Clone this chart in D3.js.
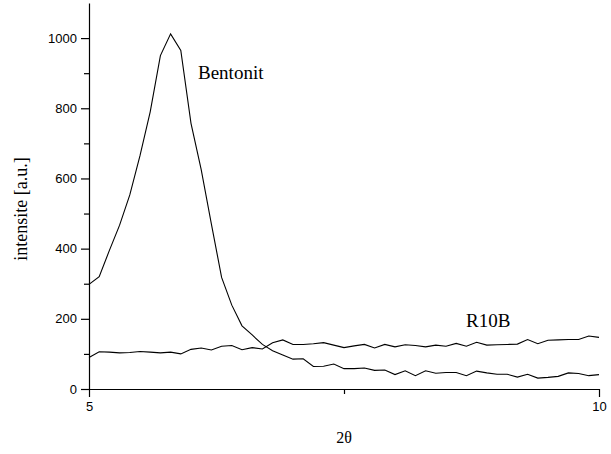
<!DOCTYPE html>
<html>
<head>
<meta charset="utf-8">
<script src="https://cdn.jsdelivr.net/npm/d3@7"></script>
<style>
  body { margin: 0; background: #fff; }
  .axis path, .axis line { stroke: #000; stroke-width: 1.2px; }
  .axis text { font-family: "Liberation Sans", Arial, sans-serif; font-size: 13px; fill: #000; }
  .serif { font-family: "Liberation Serif", "Times New Roman", serif; fill: #000; }
</style>
</head>
<body>
<div id="chart"></div>
<script>
// 2theta sampling (0.1 step)
var twoTheta = [5.0, 5.1, 5.2, 5.3, 5.4, 5.5, 5.6, 5.7, 5.8, 5.9,
    6.0, 6.1, 6.2, 6.3, 6.4, 6.5, 6.6, 6.7, 6.8, 6.9,
    7.0, 7.1, 7.2, 7.3, 7.4, 7.5, 7.6, 7.7, 7.8, 7.9,
    8.0, 8.1, 8.2, 8.3, 8.4, 8.5, 8.6, 8.7, 8.8, 8.9,
    9.0, 9.1, 9.2, 9.3, 9.4, 9.5, 9.6, 9.7, 9.8, 9.9, 10.0];

var bentonit = [298, 320, 395, 467, 553, 665, 790, 950, 1012, 965,
    757, 625, 470, 318, 239, 180, 154, 127, 109, 97,
    85, 86, 64, 65, 71, 58, 58, 60, 53, 54,
    41, 52, 38, 52, 45, 47, 47, 38, 51, 46,
    42, 42, 34, 42, 31, 33, 36, 46, 44, 38, 41];

var r10b = [90, 106, 105, 103, 104, 107, 105, 103, 105, 100,
    113, 117, 111, 122, 124, 112, 118, 114, 132, 140,
    127, 127, 129, 132, 125, 118, 123, 127, 117, 127,
    120, 126, 124, 120, 125, 122, 130, 122, 133, 125,
    126, 127, 128, 141, 129, 139, 140, 141, 141, 151, 147];

var xMajorTicks = [5, 10];
var xMinorTicks = [7.5];
var yMajorTicks = [0, 200, 400, 600, 800, 1000];
var yMinorTicks = [100, 300, 500, 700, 900];

var width = 611, height = 454;

var x = d3.scaleLinear().domain([5, 10]).range([89, 599]);
var y = d3.scaleLinear().domain([0, 1100]).range([389, 3]);

var svg = d3.select("#chart").append("svg")
    .attr("width", width)
    .attr("height", height);

// minor ticks first, then the main axes on top
svg.append("g")
    .attr("class", "axis")
    .attr("transform", "translate(0," + y(0) + ")")
    .call(d3.axisBottom(x).tickValues(xMinorTicks).tickSize(5).tickFormat(""))
    .select(".domain").remove();

svg.append("g")
    .attr("class", "axis")
    .attr("transform", "translate(" + x(5) + ",0)")
    .call(d3.axisLeft(y).tickValues(yMinorTicks).tickSize(5).tickFormat(""))
    .select(".domain").remove();

svg.append("g")
    .attr("class", "axis")
    .attr("transform", "translate(0," + y(0) + ")")
    .call(d3.axisBottom(x).tickValues(xMajorTicks).tickSize(8).tickSizeOuter(0).tickPadding(5).tickFormat(d3.format("d")));

svg.append("g")
    .attr("class", "axis")
    .attr("transform", "translate(" + x(5) + ",0)")
    .call(d3.axisLeft(y).tickValues(yMajorTicks).tickSize(8).tickSizeOuter(0).tickPadding(4).tickFormat(d3.format("d")));

var line = d3.line()
    .x(function(d, i) { return x(twoTheta[i]); })
    .y(function(d) { return y(d); });

[bentonit, r10b].forEach(function(series) {
    svg.append("path")
        .datum(series)
        .attr("fill", "none")
        .attr("stroke", "#000")
        .attr("stroke-width", 1.1)
        .attr("d", line);
});

// curve labels
svg.append("text").attr("class", "serif")
    .attr("x", 198).attr("y", 79)
    .style("font-size", "19px")
    .text("Bentonit");

svg.append("text").attr("class", "serif")
    .attr("x", 466).attr("y", 327)
    .style("font-size", "19px")
    .text("R10B");

// axis titles
svg.append("text").attr("class", "serif")
    .attr("transform", "translate(27,209) rotate(-90)")
    .attr("text-anchor", "middle")
    .style("font-size", "18px")
    .text("intensite [a.u.]");

svg.append("text").attr("class", "serif")
    .attr("x", 344).attr("y", 443)
    .attr("text-anchor", "middle")
    .style("font-size", "16px")
    .text("2θ");
</script>
</body>
</html>
